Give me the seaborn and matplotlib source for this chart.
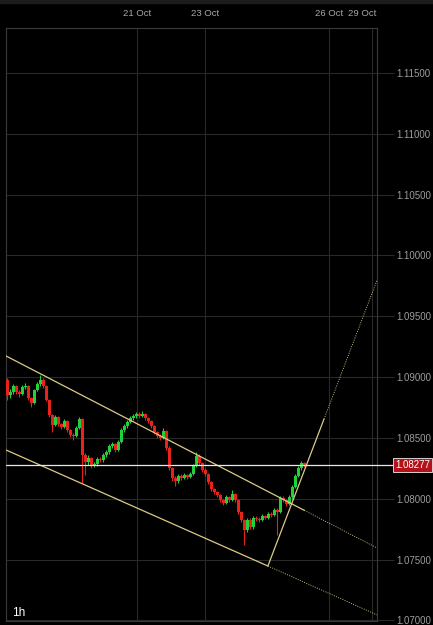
import numpy as np
import pandas as pd
import matplotlib
matplotlib.use("Agg")
import matplotlib.pyplot as plt
import seaborn as sns
from matplotlib.transforms import ScaledTranslation, blended_transform_factory

# ---------------- data ----------------
first_open = 1.08976
closes = [1.08853, 1.08878, 1.08927, 1.08878, 1.08861, 1.08919, 1.08927, 1.08828, 1.08787, 1.08894,
          1.08943, 1.08976, 1.08927, 1.08812, 1.08689, 1.08607, 1.08672, 1.08615, 1.08590, 1.08639,
          1.08565, 1.08524, 1.08516, 1.08582, 1.08656, 1.08360, 1.08302, 1.08335, 1.08277, 1.08286,
          1.08327, 1.08319, 1.08360, 1.08385, 1.08434, 1.08450, 1.08401, 1.08467, 1.08565, 1.08598,
          1.08631, 1.08664, 1.08680, 1.08697, 1.08680, 1.08697, 1.08664, 1.08639, 1.08598, 1.08549,
          1.08516, 1.08500, 1.08557, 1.08418, 1.08253, 1.08171, 1.08146, 1.08187, 1.08171, 1.08196,
          1.08179, 1.08204, 1.08269, 1.08352, 1.08294, 1.08237, 1.08204, 1.08138, 1.08080, 1.08056,
          1.08031, 1.07990, 1.07965, 1.08015, 1.07990, 1.08039, 1.07990, 1.07891, 1.07826, 1.07743,
          1.07826, 1.07768, 1.07842, 1.07834, 1.07826, 1.07858, 1.07842, 1.07875, 1.07867, 1.07908,
          1.07891, 1.08006, 1.07990, 1.07957, 1.08015, 1.08097, 1.08187, 1.08253, 1.08294, 1.08277]
highs = [1.08993, 1.08900, 1.08945, 1.08935, 1.08890, 1.08935, 1.08950, 1.08935, 1.08840, 1.08905,
         1.08960, 1.09018, 1.08990, 1.08935, 1.08820, 1.08700, 1.08690, 1.08680, 1.08625, 1.08655,
         1.08645, 1.08575, 1.08540, 1.08595, 1.08672, 1.08664, 1.08375, 1.08360, 1.08345, 1.08305,
         1.08340, 1.08345, 1.08375, 1.08400, 1.08450, 1.08470, 1.08460, 1.08480, 1.08580, 1.08615,
         1.08650, 1.08680, 1.08700, 1.08715, 1.08710, 1.08722, 1.08705, 1.08675, 1.08650, 1.08610,
         1.08560, 1.08530, 1.08580, 1.08565, 1.08430, 1.08265, 1.08185, 1.08200, 1.08200, 1.08210,
         1.08205, 1.08220, 1.08285, 1.08385, 1.08365, 1.08305, 1.08250, 1.08215, 1.08150, 1.08090,
         1.08065, 1.08040, 1.08000, 1.08030, 1.08025, 1.08072, 1.08050, 1.08000, 1.07900, 1.07835,
         1.07845, 1.07840, 1.07860, 1.07855, 1.07850, 1.07875, 1.07870, 1.07890, 1.07890, 1.07925,
         1.07920, 1.08025, 1.08020, 1.08000, 1.08030, 1.08110, 1.08200, 1.08270, 1.08311, 1.08305]
lows = [1.08812, 1.08830, 1.08865, 1.08860, 1.08840, 1.08850, 1.08905, 1.08815, 1.08755, 1.08780,
        1.08885, 1.08930, 1.08910, 1.08800, 1.08675, 1.08549, 1.08595, 1.08600, 1.08570, 1.08580,
        1.08550, 1.08510, 1.08483, 1.08505, 1.08570, 1.08130, 1.08196, 1.08280, 1.08250, 1.08260,
        1.08270, 1.08300, 1.08305, 1.08345, 1.08370, 1.08420, 1.08385, 1.08390, 1.08455, 1.08550,
        1.08585, 1.08620, 1.08650, 1.08665, 1.08665, 1.08670, 1.08650, 1.08620, 1.08580, 1.08530,
        1.08500, 1.08483, 1.08490, 1.08400, 1.08237, 1.08150, 1.08105, 1.08130, 1.08155, 1.08160,
        1.08165, 1.08170, 1.08195, 1.08260, 1.08280, 1.08220, 1.08190, 1.08120, 1.08065, 1.08040,
        1.08015, 1.07975, 1.07950, 1.07955, 1.07975, 1.07980, 1.07975, 1.07875, 1.07810, 1.07620,
        1.07730, 1.07750, 1.07755, 1.07820, 1.07810, 1.07815, 1.07830, 1.07830, 1.07850, 1.07855,
        1.07702, 1.07880, 1.07975, 1.07940, 1.07945, 1.08000, 1.08085, 1.08175, 1.08240, 1.08265]

date_labels = ["21 Oct", "23 Oct", "26 Oct", "29 Oct"]
date_pos = [43.17, 65.83, 107.17, 121.5]
price_ticks = [1.070, 1.075, 1.080, 1.085, 1.090, 1.095, 1.100, 1.105, 1.110, 1.115]
last_price = 1.08277
timeframe = "1h"

# drawn trend lines: (x points, price points); first segment solid, second dotted
upper_x = [-0.5, 99.0, 123.2]
upper_y = [1.09174, 1.07904, 1.07595]
lower_x = [-0.5, 86.8, 123.2]
lower_y = [1.08401, 1.07447, 1.07045]
rise_x = [86.8, 105.5, 123.2]
rise_y = [1.07447, 1.08655, 1.09798]

# ---------------- style ----------------
sns.set_theme(style="dark")
plt.rcParams['font.family'] = ['Liberation Sans', 'DejaVu Sans']

BG = "black"
GRID = "#282828"
FRAME = "#3a3a3a"
GREEN = "#1fd23a"
RED = "#e8231c"
LINE = "#dccb86"

fig = plt.figure(figsize=(4.33, 6.25), dpi=100, facecolor=BG)
ax = fig.add_axes([6 / 433, 4 / 625, 371 / 433, 593 / 625])
ax.set_facecolor(BG)

# top strip
fig.patches.append(plt.Rectangle((0, 1 - 3 / 625), 1, 3 / 625, transform=fig.transFigure,
                                 color="#1c1c1c", zorder=0))

# ---------------- candles ----------------
opens = [first_open] + closes[:-1]
df = pd.DataFrame(dict(i=np.arange(len(closes)), open=opens, close=closes, high=highs, low=lows))
df["up"] = df["close"] >= df["open"]
cols = np.where(df["up"], GREEN, RED)
ax.vlines(df["i"], df["low"], df["high"], colors=cols, linewidth=0.8, zorder=3)
body = (df["close"] - df["open"]).abs().clip(lower=0.00005)
ax.bar(df["i"], body, bottom=np.minimum(df["open"], df["close"]), width=0.85,
       color=cols, linewidth=0, zorder=4)

# ---------------- trend lines ----------------
for xs, ys in [(upper_x, upper_y), (lower_x, lower_y), (rise_x, rise_y)]:
    sns.lineplot(x=xs[:2], y=ys[:2], ax=ax, color=LINE, linewidth=0.9, zorder=5)
    sns.lineplot(x=xs[1:], y=ys[1:], ax=ax, color=LINE, linewidth=0.6,
                 linestyle=(0, (1.2, 1.6)), zorder=5)

# ---------------- last price ----------------
tr = blended_transform_factory(ax.transAxes, ax.transData)
ax.plot([0, 1.043], [last_price, last_price], transform=tr, color="#e8e8e8",
        linewidth=0.9, clip_on=False, zorder=6)
ax.text(1.0485, last_price, f"{last_price:.5f}", transform=tr, color="white",
        fontsize=7.0, va="center", ha="left", zorder=7,
        bbox=dict(boxstyle="square,pad=0.22", facecolor="#b3121a", edgecolor="#eeeeee",
                  linewidth=0.6))

# ---------------- axes ----------------
ax.set_xlim(-0.5, 123.17)
ax.set_ylim(1.06995, 1.1187)
ax.set_xlabel("")
ax.set_ylabel("")

ax.yaxis.tick_right()
ax.set_yticks(price_ticks)
ax.set_yticklabels([f"{v:.5f}" for v in price_ticks])
ax.tick_params(axis="y", length=12, color=GRID, width=0.8, pad=2,
               labelsize=7.0, labelcolor="#9c9c9c")

ax.xaxis.tick_top()
ax.set_xticks(date_pos)
ax.set_xticklabels(date_labels)
ax.tick_params(axis="x", length=0, pad=7, labelsize=6.8, labelcolor="#a8a8a8")
lbl = ax.get_xticklabels()[-1]
lbl.set_transform(lbl.get_transform() + ScaledTranslation(-10 / 100, 0, fig.dpi_scale_trans))

ax.grid(True, color=GRID, linewidth=0.8)
ax.set_axisbelow(True)
for s in ax.spines.values():
    s.set_visible(True)
    s.set_color(FRAME)
    s.set_linewidth(0.8)

fig.text(12 / 433, 1 - 613 / 625, timeframe, color="white", fontsize=8.5, va="center", ha="left")

fig.savefig("out.png", dpi=100, facecolor=BG)
